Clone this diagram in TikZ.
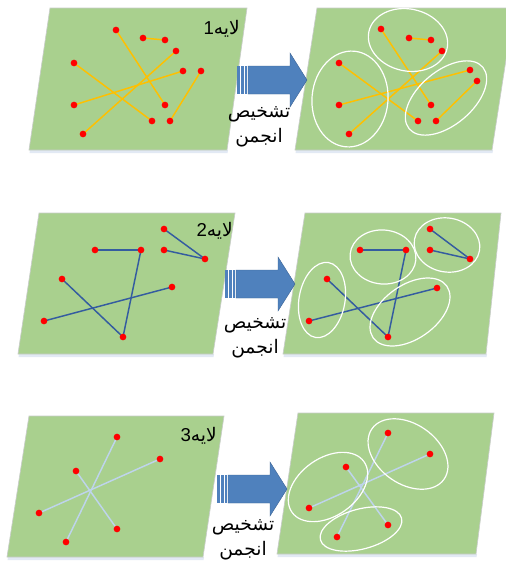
\documentclass[tikz,border=0pt]{standalone}
\usepackage{fontspec}
\setmainfont{Liberation Sans}
\newfontfamily\arabicfont[Script=Arabic]{DejaVu Sans}
\TeXXeTstate=1
\definecolor{pgreen}{RGB}{169,208,142}
\definecolor{pborder}{RGB}{200,205,200}
\definecolor{pshadow}{RGB}{226,233,244}
\definecolor{porange}{RGB}{255,192,0}
\definecolor{pblue}{RGB}{52,92,160}
\definecolor{plight}{RGB}{190,212,236}
\definecolor{parrow}{RGB}{79,129,189}
\definecolor{parrowb}{RGB}{58,98,148}
\newcommand\stripedarrow[2]{%
  \fill[parrow] (#1,#2-14) rectangle ++(3,28);
  \fill[parrow] (#1+4,#2-14) rectangle ++(2.5,28);
  \fill[parrow] (#1+7.5,#2-14) rectangle ++(2.5,28);
  \draw[arr] (#1+11,#2-14) -- (#1+53,#2-14) -- (#1+53,#2-27) -- (#1+70,#2)
     -- (#1+53,#2+27) -- (#1+53,#2+14) -- (#1+11,#2+14) -- cycle;}
\begin{document}
\begin{tikzpicture}[x=0.75pt,y=-0.75pt,
  panel/.style={fill=pgreen, draw=pborder, line width=0.5pt},
  pshad/.style={fill=pshadow},
  dot/.style={circle, fill=red, inner sep=0pt, minimum size=5pt},
  ylink/.style={draw=porange, line width=1.1pt},
  blink/.style={draw=pblue, line width=1.1pt},
  llink/.style={draw=plight, line width=1.1pt},
  grp/.style={draw=white, line width=0.9pt},
  arr/.style={fill=parrow, draw=parrowb, line width=0.3pt},
  lbl/.style={font=\fontsize{14}{16}\selectfont, inner sep=0pt},
  captxt/.style={font=\arabicfont\fontsize{14}{19}\selectfont, align=center, inner sep=0pt}
]
\useasboundingbox (0,0) rectangle (506,561);
\clip (0,0) rectangle (506,561);
\fill[white] (0,0) rectangle (506,561);

% ---------- Row 1 ----------
\fill[pshad] (30,150) -- (228,150) -- (227.5,153) -- (29.5,153) -- cycle;
\fill[pshad] (296,150) -- (493,150) -- (492.5,153) -- (295.5,153) -- cycle;
\draw[panel] (50,8) -- (247,8) -- (227,150) -- (29,150) -- cycle;
\draw[panel] (317,8) -- (514,8) -- (492,150) -- (295,150) -- cycle;
\node[lbl, anchor=east] (l1) at (240,29) {\beginR{\arabicfont لایه}1\endR};

\foreach \n/\x/\y in {a/116/30,b/143/38,c/165/40,d/176/51,e/74/63,f/183/71,g/201/71,h/74/105,i/165/105,j/152/121,k/170/121,l/83/134}
  \coordinate (L1\n) at (\x,\y);
\foreach \n/\x/\y in {a/381/29,b/409/38,c/431/40,d/442/51,e/339/63,f/470/70,g/477/81,h/339/105,i/431/105,j/418/121,k/436/121,l/349/134}
  \coordinate (R1\n) at (\x,\y);
\foreach \s in {L1,R1}{
  \draw[ylink] (\s a) -- (\s i);
  \draw[ylink] (\s b) -- (\s c);
  \draw[ylink] (\s d) -- (\s l);
  \draw[ylink] (\s e) -- (\s j);
  \draw[ylink] (\s f) -- (\s h);
  \draw[ylink] (\s g) -- (\s k);
  \foreach \n in {a,b,c,d,e,f,g,h,i,j,k,l} \node[dot] at (\s\n) {};
}
\draw[grp, shift={(408,40)}, rotate=-12] (0,0) ellipse [x radius=40, y radius=31];
\draw[grp, shift={(350,99)}, rotate=-5] (0,0) ellipse [x radius=38, y radius=48];
\draw[grp, shift={(446,98)}, rotate=40] (0,0) ellipse [x radius=48, y radius=27];
\stripedarrow{237}{80}
\node[captxt] (c1) at (259,127) {\beginR تشخیص\endR\\\beginR انجمن\endR};

% ---------- Row 2 ----------
\fill[pshad] (19,354) -- (214,354) -- (213.5,357) -- (18.5,357) -- cycle;
\fill[pshad] (284,354) -- (487,354) -- (486.5,357) -- (283.5,357) -- cycle;
\draw[panel] (39,213) -- (235,213) -- (213,354) -- (18,354) -- cycle;
\draw[panel] (305,213) -- (501,213) -- (486,354) -- (283,354) -- cycle;
\node[lbl, anchor=east] (l2) at (233,231) {\beginR{\arabicfont لایه}2\endR};

\foreach \n/\x/\y in {a/164/229,b/95/250,c/141/250,d/164/250,e/205/259,f/62/279,g/172/287,h/44/321,i/123/337}
  \coordinate (L2\n) at (\x,\y);
\foreach \n/\x/\y in {a/430/229,b/360/250,c/406/250,d/430/250,e/470/259,f/327/279,g/437/288,h/309/321,i/388/337}
  \coordinate (R2\n) at (\x,\y);
\foreach \s in {L2,R2}{
  \draw[blink] (\s a) -- (\s e);
  \draw[blink] (\s d) -- (\s e);
  \draw[blink] (\s b) -- (\s c);
  \draw[blink] (\s c) -- (\s i);
  \draw[blink] (\s f) -- (\s i);
  \draw[blink] (\s h) -- (\s g);
  \foreach \n in {a,b,c,d,e,f,g,h,i} \node[dot] at (\s\n) {};
}
\draw[grp, shift={(383,257)}, rotate=-5] (0,0) ellipse [x radius=33, y radius=27];
\draw[grp, shift={(447,245)}, rotate=-10] (0,0) ellipse [x radius=33, y radius=27];
\draw[grp, shift={(322,300)}, rotate=-10] (0,0) ellipse [x radius=23, y radius=38];
\draw[grp, shift={(410,312)}, rotate=35] (0,0) ellipse [x radius=45, y radius=27];
\stripedarrow{225}{284}
\node[captxt] (c2) at (255,338) {\beginR تشخیص\endR\\\beginR انجمن\endR};

% ---------- Row 3 ----------
\fill[pshad] (8,557) -- (204,557) -- (203.5,560) -- (7.5,560) -- cycle;
\fill[pshad] (278,554) -- (477,554) -- (476.5,557) -- (277.5,557) -- cycle;
\draw[panel] (29,416) -- (224,416) -- (203,557) -- (7,557) -- cycle;
\draw[panel] (298,413) -- (494,413) -- (476,554) -- (277,554) -- cycle;
\node[lbl, anchor=east] (l3) at (217,436) {\beginR{\arabicfont لایه}3\endR};

\foreach \n/\x/\y in {a/117/437,b/160/459,c/76/471,d/39/513,e/117/529,f/66/542}
  \coordinate (L3\n) at (\x,\y);
\foreach \n/\x/\y in {a/388/433,b/430/454,c/346/467,d/309/508,e/388/525,f/337/537}
  \coordinate (R3\n) at (\x,\y);
\foreach \s in {L3,R3}{
  \draw[llink] (\s a) -- (\s f);
  \draw[llink] (\s b) -- (\s d);
  \draw[llink] (\s c) -- (\s e);
  \foreach \n in {a,b,c,d,e,f} \node[dot] at (\s\n) {};
}
\draw[grp, shift={(408,454)}, rotate=-35] (0,0) ellipse [x radius=44, y radius=30];
\draw[grp, shift={(328,487)}, rotate=35] (0,0) ellipse [x radius=44, y radius=29];
\draw[grp, shift={(361,529)}, rotate=15] (0,0) ellipse [x radius=42, y radius=20];
\stripedarrow{217}{489}
\node[captxt] (c3) at (243,540) {\beginR تشخیص\endR\\\beginR انجمن\endR};
\end{tikzpicture}
\end{document}
